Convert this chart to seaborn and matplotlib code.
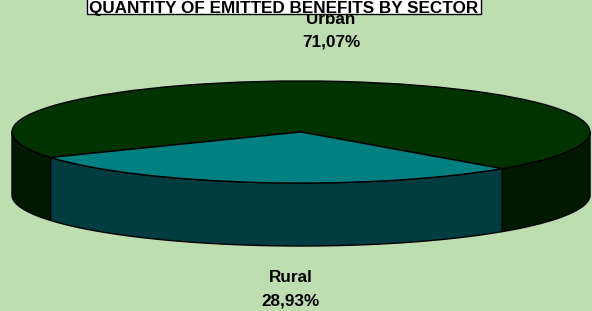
import numpy as np
import matplotlib
matplotlib.use("Agg")
import matplotlib.pyplot as plt
import seaborn as sns
from matplotlib.patches import Polygon, Rectangle

sns.set_style("white")
plt.rcParams['font.family'] = ['Liberation Sans', 'DejaVu Sans']

title = "QUANTITY OF EMITTED BENEFITS BY SECTOR"
categories = ["Urban", "Rural"]
shares = [71.07, 28.93]
top_colors = ["#003300", "#008080"]
side_colors = ["#001a00", "#003c40"]
bg = "#BCDEB0"

W, H = 592, 311
fig = plt.figure(figsize=(W / 100, H / 100), dpi=100, facecolor=bg)
ax = fig.add_axes([0, 0, 1, 1])
ax.set_facecolor(bg)

# ellipse geometry in pixels
cx, cy = 301, 132   # center (from top)
a, b = 289, 51
depth = 63
d = depth / b

start = -45.9
spans = []
ang = start
for v in shares:
    sweep = 360 * v / sum(shares)
    spans.append((ang, ang + sweep))
    ang += sweep

def front_parts(t0, t1):
    parts = []
    for k in range(-1, 3):
        lo, hi = 180 + 360 * k, 360 + 360 * k
        s, e = max(t0, lo), min(t1, hi)
        if e > s:
            parts.append((s, e))
    return parts

for (t0, t1), col in zip(spans, side_colors):
    for s, e in front_parts(t0, t1):
        t = np.radians(np.linspace(s, e, 200))
        xs = np.cos(t)
        ys = np.sin(t)
        pts = np.concatenate([np.column_stack([xs, ys]),
                              np.column_stack([xs[::-1], ys[::-1] - d])])
        ax.add_patch(Polygon(pts, closed=True, facecolor=col, edgecolor='black',
                             linewidth=1.0, zorder=1, joinstyle='round'))

wedges, _ = ax.pie(shares, colors=top_colors, startangle=start, counterclock=True,
                   radius=1, center=(0, 0), frame=True,
                   wedgeprops=dict(edgecolor='black', linewidth=1.0))
for w in wedges:
    w.set_zorder(2)
ax.set_xlim(-cx / a, (W - cx) / a)
ax.set_ylim(-(H - cy) / b, cy / b)
ax.set_aspect('auto')
ax.axis('off')

def fmt(v):
    return f"{v:.2f}".replace('.', ',') + '%'

fs = 12.3
label_pos = {"Urban": (331, 19), "Rural": (291, 278)}
for c, v in zip(categories, shares):
    px, py = label_pos[c]
    fig.text(px / W, 1 - py / H, c, ha='center', va='center', fontsize=fs,
             fontweight='bold', color='black')
    fig.text(px / W, 1 - (py + 23) / H, fmt(v), ha='center', va='center',
             fontsize=fs, fontweight='bold', color='black')

# title box (clipped at top)
fig.patches.append(Rectangle((87 / W, 1 - 14 / H), (481 - 87) / W, 20 / H,
                             transform=fig.transFigure, facecolor='white',
                             edgecolor='black', linewidth=1.0, zorder=5))
fig.text(284 / W, 1 - 12.5 / H, title, ha='center', va='baseline', fontsize=fs,
         fontweight='bold', color='black', zorder=6)

fig.savefig("out.png", dpi=100, facecolor=bg)
